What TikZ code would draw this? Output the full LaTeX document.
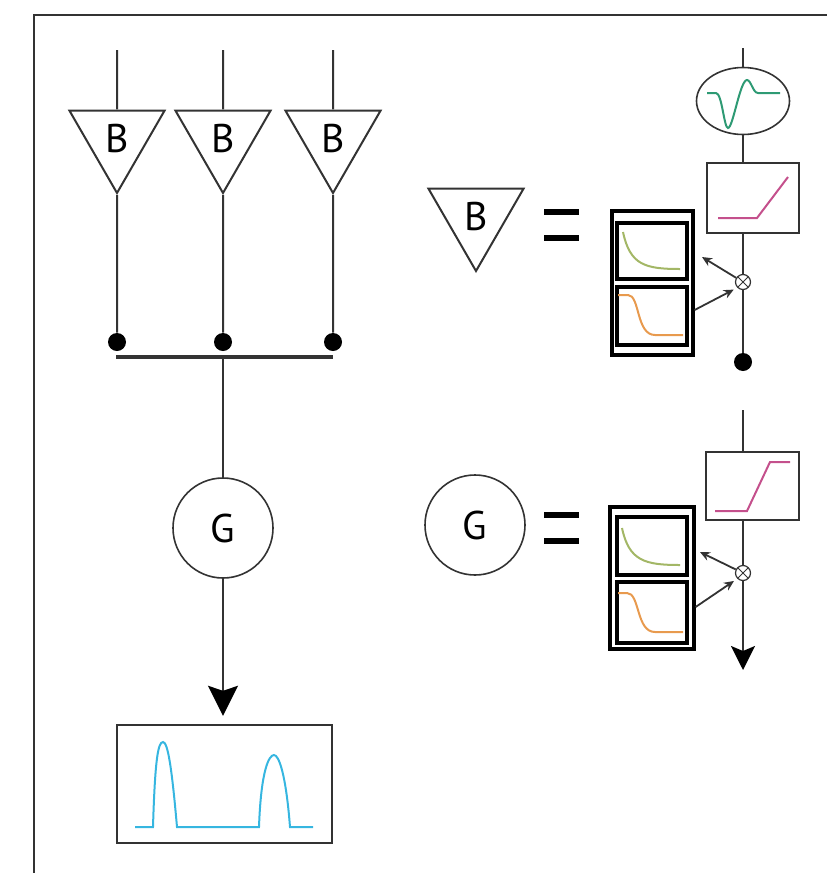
\documentclass[tikz,border=0pt]{standalone}
\usepackage{fontspec}
\setmainfont{PT Sans}
\usetikzlibrary{arrows.meta,shapes.geometric}

\definecolor{wirecol}{HTML}{333333}
\definecolor{spikecol}{HTML}{2E9A74}
\definecolor{rampcol}{HTML}{C4508C}
\definecolor{decaycol}{HTML}{A3B766}
\definecolor{sigcol}{HTML}{E89A4E}
\definecolor{tracecol}{HTML}{36B6E0}

\begin{document}
\begin{tikzpicture}[x=0.5pt,y=-0.5pt,
	wire/.style={draw=wirecol, line width=1pt},
	bnode/.style={regular polygon, regular polygon sides=3, shape border rotate=180, draw=wirecol, line width=1pt, minimum size=55pt, inner sep=0pt, font=\fontsize{20}{24}\selectfont},
	gnode/.style={circle, draw=wirecol, line width=0.8pt, minimum size=50pt, inner sep=0pt, font=\fontsize{20}{24}\selectfont},
	dot/.style={circle, fill=black, minimum size=9pt, inner sep=0pt},
	plotbox/.style={rectangle, draw=wirecol, line width=1.2pt, inner sep=0pt},
	filterbox/.style={rectangle, draw=black, line width=1.6pt, inner sep=0pt},
	mult/.style={circle, draw=wirecol, line width=0.6pt, fill=white, minimum size=7.5pt, inner sep=0pt,
		path picture={\draw[wirecol, line width=0.5pt] (path picture bounding box.north west) -- (path picture bounding box.south east) (path picture bounding box.north east) -- (path picture bounding box.south west);}},
	smallarrow/.style={draw=wirecol, line width=0.9pt, -{Stealth[length=5pt,width=4.5pt]}},
	bigarrow/.style={wire, -{Stealth[length=#1,width=#1,inset=2.5pt,black]}},
	eqbar/.style={draw=black, line width=3pt}]
	\useasboundingbox (0,0) rectangle (827,873);

	% FRAME
	\draw[draw=wirecol, line width=1.3pt] (34,873) -- (34,15) -- (827,15);

	% BLOCKS
	\node[bnode] (b1) at (117,138) {\raisebox{-3pt}{B}};
	\node[bnode] (b2) at (223,138) {\raisebox{-3pt}{B}};
	\node[bnode] (b3) at (333,138) {\raisebox{-3pt}{B}};
	\node[dot] (d1) at (117,342) {};
	\node[dot] (d2) at (223,342) {};
	\node[dot] (d3) at (333,342) {};
	\node[gnode] (g1) at (223,528) {G};
	\node[plotbox, minimum width=107.5pt, minimum height=59pt] (out) at (224.5,784) {};

	% ARROWS
	\coordinate (in1) at (117,50);
	\coordinate (in2) at (223,50);
	\coordinate (in3) at (333,50);
	\draw[wire] (in1) -- (b1.north);
	\draw[wire] (in2) -- (b2.north);
	\draw[wire] (in3) -- (b3.north);
	\draw[wire] (b1.south) -- (d1);
	\draw[wire] (b2.south) -- (d2);
	\draw[wire] (b3.south) -- (d3);
	\coordinate (busL) at (116,357);
	\coordinate (busR) at (333,357);
	\draw[draw=wirecol, line width=2pt] (busL) -- (busR);
	\draw[wire] (busL -| g1) -- (g1);
	\draw[bigarrow=15pt] (g1) -- ([yshift=4pt]g1 |- out.north);

	% OUTPUT TRACE
	\draw[tracecol, line width=1pt] (135,827) -- (153,827) .. controls (155,760) and (158,742) .. (163,742) .. controls (168,742) and (172,770) .. (177,827) -- (259,827) .. controls (261,770) and (269,755) .. (274,755) .. controls (279,755) and (286,775) .. (290,827) -- (313,827);

	% DEFINITION OF B
	\node[bnode] (bdef) at (476,216) {\raisebox{-3pt}{B}};
	\draw[eqbar] (544,212) -- (579,212);
	\draw[eqbar] (544,238) -- (579,238);
	\coordinate (top1) at (743,48);
	\node[ellipse, draw=wirecol, line width=0.8pt, minimum width=46.5pt, minimum height=33.5pt, inner sep=0pt] (spk) at (743,101) {};
	\node[plotbox, minimum width=46pt, minimum height=35pt] (ramp1) at (753,198) {};
	\node[mult] (mul1) at (743,282) {};
	\node[dot] (end1) at (743,362) {};
	\node[filterbox, minimum width=40.5pt, minimum height=72pt] (fb1) at (652.5,283) {};
	\node[filterbox, minimum width=35pt, minimum height=28pt] (fa1) at (652,251) {};
	\node[filterbox, minimum width=35pt, minimum height=29pt] (fs1) at (652,316) {};
	\draw[wire] (top1) -- (spk);
	\draw[wire] (spk) -- (spk |- ramp1.north);
	\draw[wire] (mul1 |- ramp1.south) -- (mul1);
	\draw[wire] (mul1) -- (end1);
	\coordinate (tipa1) at (702,257);
	\draw[smallarrow] (mul1) -- (tipa1);
	\draw[smallarrow, shorten >=2pt] (fb1.east |- 0,310) -- (mul1.south west);
	\draw[spikecol, line width=1pt] (707,93) -- (716,93) .. controls (722,93) and (724,128) .. (728,128) .. controls (733,128) and (740,80) .. (747,80) .. controls (751,80) and (753,93) .. (758,93) -- (780,93);
	\draw[rampcol, line width=1pt] (718,218) -- (757,218) -- (788,177);
	\draw[decaycol, line width=1pt] (623,232) .. controls (630,265) and (645,269) .. (680,269);
	\draw[sigcol, line width=1pt] (618,295) -- (628,295) .. controls (640,295) and (636,335) .. (655,335) -- (683,335);

	% DEFINITION OF G
	\node[gnode] (gdef) at (475,525) {G};
	\draw[eqbar] (544,515) -- (579,515);
	\draw[eqbar] (544,541) -- (579,541);
	\coordinate (top2) at (743,410);
	\node[plotbox, minimum width=46.5pt, minimum height=34pt] (ramp2) at (752.5,486) {};
	\node[mult] (mul2) at (743,573) {};
	\coordinate (end2) at (743,670);
	\node[filterbox, minimum width=42pt, minimum height=71pt] (fb2) at (652,578) {};
	\node[filterbox, minimum width=35pt, minimum height=29pt] (fa2) at (652,546) {};
	\node[filterbox, minimum width=35pt, minimum height=30.5pt] (fs2) at (652,612.5) {};
	\draw[wire] (top2) -- (top2 |- ramp2.north);
	\draw[wire] (mul2 |- ramp2.south) -- (mul2);
	\draw[bigarrow=12pt] (mul2) -- (end2);
	\coordinate (tipa2) at (700,552);
	\draw[smallarrow] (mul2) -- (tipa2);
	\draw[smallarrow, shorten >=2pt] (fb2.east |- 0,607) -- (mul2.south west);
	\draw[rampcol, line width=1pt] (715,511) -- (747,511) -- (770,462) -- (790,462);
	\draw[decaycol, line width=1pt] (622,528) .. controls (629,561) and (645,565) .. (680,565);
	\draw[sigcol, line width=1pt] (618,593) -- (627,593) .. controls (640,593) and (636,632) .. (655,632) -- (683,632);
\end{tikzpicture}
\end{document}
